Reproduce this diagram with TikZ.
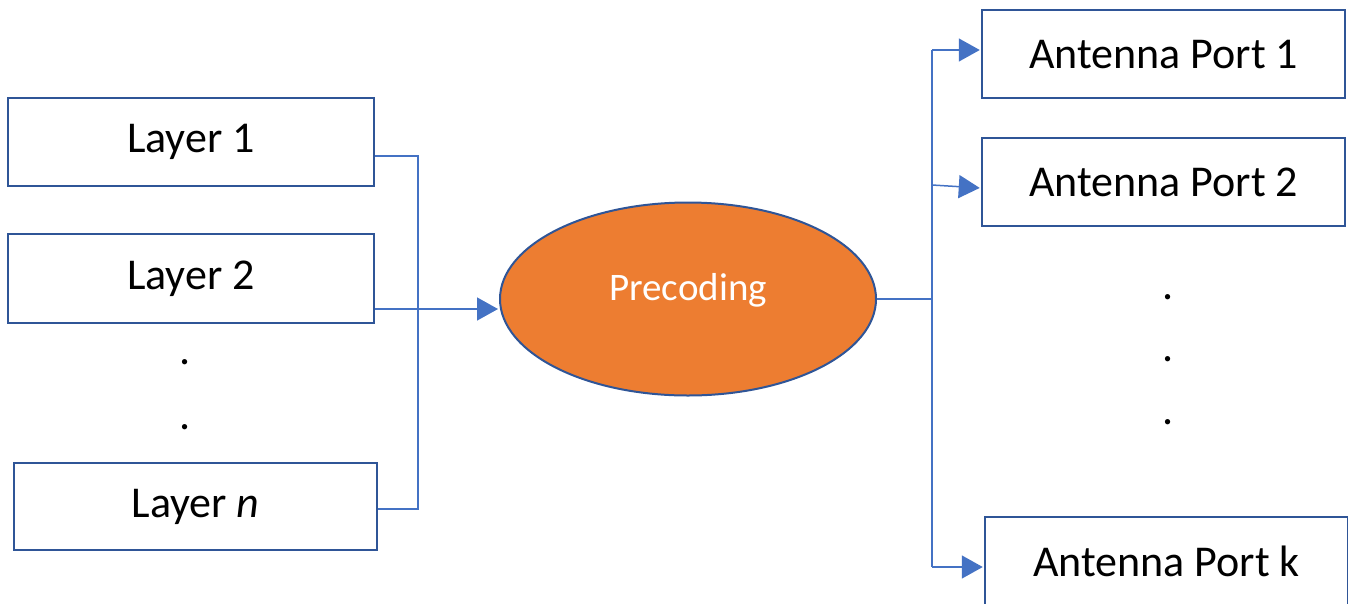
\documentclass[tikz,border=0pt]{standalone}
\usepackage{fontspec}
\setmainfont{Carlito}
\usetikzlibrary{arrows.meta,shapes.geometric}
\definecolor{boxblue}{HTML}{2F5597}
\definecolor{linkblue}{HTML}{4472C4}
\definecolor{precorange}{HTML}{ED7D31}
\tikzset{
  box/.style={draw=boxblue, line width=2.5pt, fill=white, rectangle, inner sep=0pt,
    minimum width=363pt, minimum height=88pt, font=\fontsize{44}{50}\selectfont},
  conn/.style={draw=linkblue, line width=1.5pt},
  arr/.style={conn, -{Triangle[length=21pt,width=23pt]}, shorten >=1pt},
  dotnode/.style={anchor=base, inner sep=0pt, font=\fontsize{44}{50}\selectfont},
}
\begin{document}
\begin{tikzpicture}[x=1pt,y=-1pt]
\useasboundingbox (0,0) rectangle (1348,603);
\clip (0,0) rectangle (1348,603);
% left boxes
\node[box, minimum width=366pt] (l1) at (191,142) {Layer 1};
\node[box, minimum width=366pt, minimum height=89pt] (l2) at (191,278.5) {Layer 2};
\node[box, minimum height=87pt] (ln) at (195.5,506.5) {Layer \textit{n}};
\node[dotnode] (ld1) at (185,364) {.};
\node[dotnode] (ld2) at (185,429) {.};
% precoding
\node[ellipse, draw=boxblue, line width=2pt, fill=precorange, minimum width=376pt,
  minimum height=193pt, inner sep=0pt, text=white, font=\fontsize{39}{44}\selectfont] (pre) at (688,299) {\raisebox{24pt}{Precoding}};
% right boxes
\node[box] (a1) at (1163.5,54) {Antenna Port 1};
\node[box] (a2) at (1163.5,182) {Antenna Port 2};
\node[box] (ak) at (1166.5,561) {Antenna Port k};
\node[dotnode] (rd1) at (1168,299) {.};
\node[dotnode] (rd2) at (1168,361) {.};
\node[dotnode] (rd3) at (1168,424) {.};
% junctions
\coordinate (jl1) at (418,156);
\coordinate (jln) at (418,509);
\coordinate (jr1) at (932,50);
\coordinate (jr2) at (932,185);
\coordinate (jrk) at (932,567);
% left connectors
\draw[conn] ([yshift=-14pt]l1.east) -- (jl1) -- (jln) -- ([yshift=-2.5pt]ln.east);
\draw[arr] ([yshift=-30.5pt]l2.east) -- ([yshift=-10pt]pre.west);
% right connectors
\draw[conn] (pre.east) -- (pre.east -| jr1);
\draw[conn] (jr1) -- (jrk);
\draw[arr] (jr1) -- ([yshift=4pt]a1.west);
\draw[arr] (jr2) -- ([yshift=-6pt]a2.west);
\draw[arr] (jrk) -- ([yshift=-6pt]ak.west);
\end{tikzpicture}
\end{document}
